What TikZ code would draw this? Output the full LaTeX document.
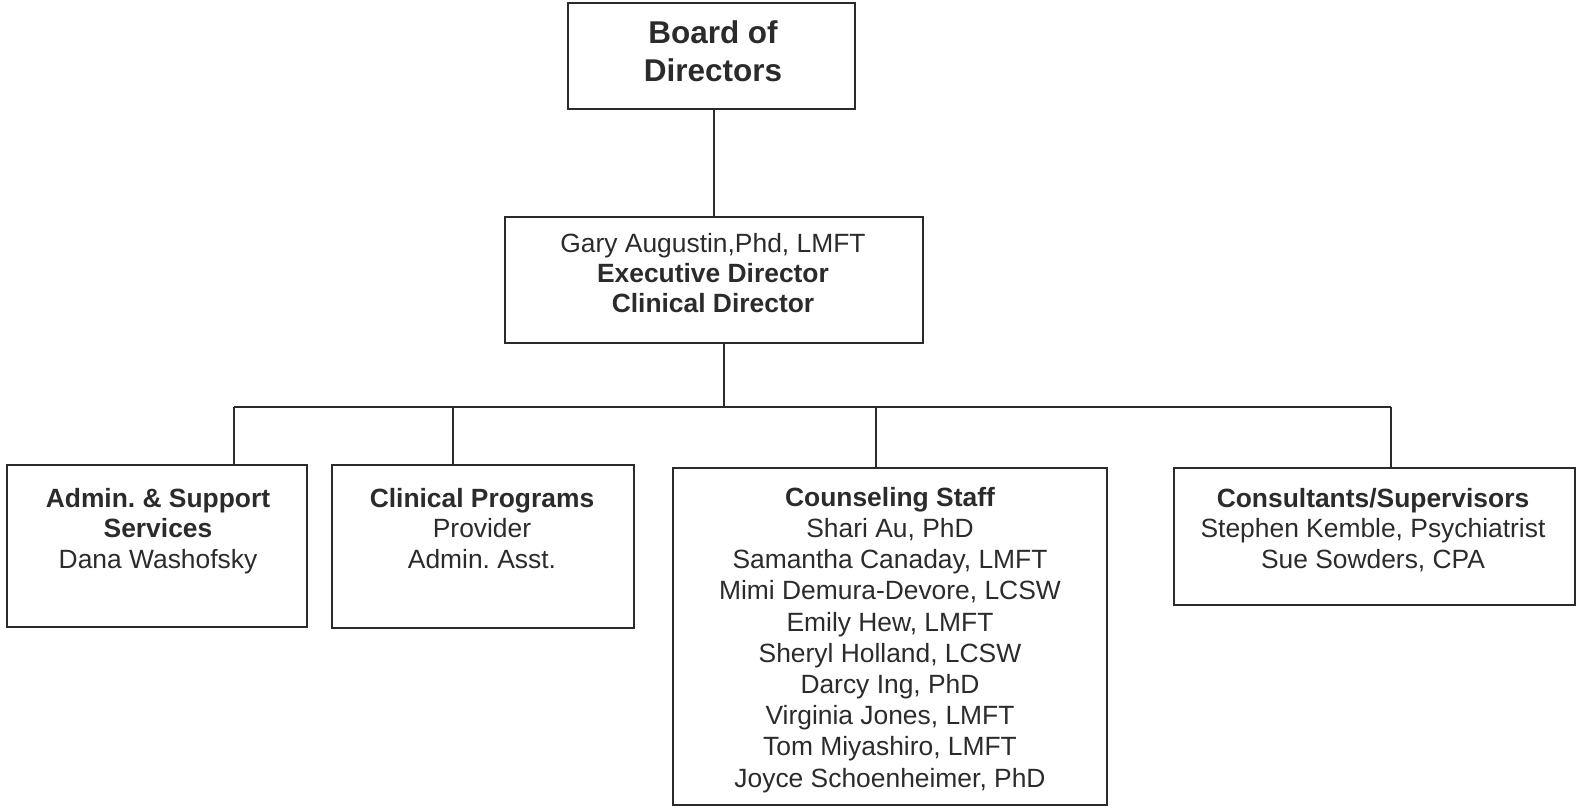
\documentclass[tikz,border=0pt]{standalone}
\usepackage{fontspec}
\setmainfont{Liberation Sans}
\definecolor{ink}{HTML}{2B2B2B}
\frenchspacing
\begin{document}
\begin{tikzpicture}[x=1pt,y=-1pt,
  box/.style={draw=ink,line width=2pt,inner sep=0pt,rectangle},
  txt/.style={inner sep=0pt,align=center,text=ink,anchor=north,font=\fontsize{26.4}{30.5}\selectfont},
  conn/.style={draw=ink,line width=2pt}]
\useasboundingbox (0,0) rectangle (1577,807);
% boxes
\node[box,minimum width=287pt,minimum height=106pt] (board) at (711.5,56) {};
\node[box,minimum width=418pt,minimum height=126pt] (gary) at (714,280) {};
\node[box,minimum width=300pt,minimum height=162pt] (admin) at (157,546) {};
\node[box,minimum width=302pt,minimum height=163pt] (clin) at (483,546.5) {};
\node[box,minimum width=434pt,minimum height=337pt] (couns) at (890,636.5) {};
\node[box,minimum width=401pt,minimum height=137pt] (cons) at (1374.5,536.5) {};
% texts
\node[txt,font=\fontsize{31.5}{38}\selectfont\bfseries] (tboard) at (713,20) {Board of\\Directors};
\node[txt,font=\fontsize{26.4}{30}\selectfont] (tgary) at (713,233) {Gary Augustin,Phd, LMFT\\\textbf{Executive Director}\\\textbf{Clinical Director}};
\node[txt] (tadmin) at (158,488) {\textbf{Admin. \& Support}\\\textbf{Services}\\Dana Washofsky};
\node[txt] (tclin) at (482,488) {\textbf{Clinical Programs}\\Provider\\Admin. Asst.};
\node[txt,font=\fontsize{26.4}{31.2}\selectfont] (tcouns) at (890,487) {\textbf{Counseling Staff}\\Shari Au, PhD\\Samantha Canaday, LMFT\\Mimi Demura-Devore, LCSW\\Emily Hew, LMFT\\Sheryl Holland, LCSW\\Darcy Ing, PhD\\Virginia Jones, LMFT\\Tom Miyashiro, LMFT\\Joyce Schoenheimer, PhD};
\node[txt] (tcons) at (1373,488) {\textbf{Consultants/Supervisors}\\Stephen Kemble, Psychiatrist\\Sue Sowders, CPA};
% connectors
\coordinate (top) at (714,407);
\coordinate (mid) at (724,407);
\coordinate (d1) at (234,407);
\coordinate (d2) at (453,407);
\coordinate (d3) at (876,407);
\coordinate (d4) at (1391,407);
\draw[conn] (board.south -| top) -- (gary.north -| top);
\draw[conn] (gary.south -| mid) -- (mid);
\draw[conn] (d1) -- (d4);
\draw[conn] (d1) -- (d1 |- admin.north);
\draw[conn] (d2) -- (d2 |- clin.north);
\draw[conn] (d3) -- (d3 |- couns.north);
\draw[conn] (d4) -- (d4 |- cons.north);
\end{tikzpicture}
\end{document}
